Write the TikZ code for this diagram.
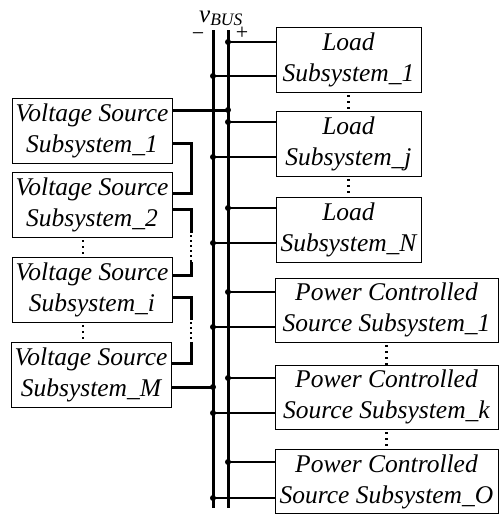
\documentclass[tikz,border=0pt]{standalone}
\usepackage{fontspec}
\setmainfont{Liberation Serif}
\begin{document}
\begin{tikzpicture}[x=1pt,y=-1pt,
 box/.style={draw, line width=0.8pt, inner sep=0pt, align=center, font=\fontsize{25.5}{31}\selectfont\itshape},
 lbox/.style={box, minimum width=145pt, minimum height=65pt},
 pbox/.style={box, minimum width=223pt, minimum height=64pt},
 vbox/.style={box, minimum width=160pt, minimum height=65pt},
 bus/.style={line width=3pt},
 wire/.style={line width=1.2pt},
 ser/.style={line width=3pt},
 serdot/.style={line width=2.5pt, dash pattern=on 2pt off 3pt},
 vdot/.style={line width=2.2pt, dash pattern=on 2pt off 4pt},
 jn/.style={circle, fill, inner sep=0pt, minimum size=6pt}]
\useasboundingbox (0,0) rectangle (499,515);

% buses
\coordinate (nbt) at (213,30); \coordinate (nbb) at (213,508);
\coordinate (pbt) at (228,30); \coordinate (pbb) at (228,508);
\draw[bus] (nbt) -- (nbb);
\draw[bus] (pbt) -- (pbb);

\node[anchor=base west, inner sep=0pt] (vbus) at (199,22) {\fontsize{25}{25}\selectfont\itshape v\textsubscript{BUS}};
\node[anchor=base, inner sep=0pt] (minus) at (198,40) {\fontsize{22}{22}\selectfont −};
\node[anchor=base, inner sep=0pt] (plus) at (242,39) {\fontsize{22}{22}\selectfont +};

% load boxes
\node[lbox] (L1) at (348.5,59.5) {Load\\Subsystem\_1};
\node[lbox] (Lj) at (348.5,143.5) {Load\\Subsystem\_j};
\node[lbox] (LN) at (348.5,229.5) {Load\\Subsystem\_N};
% power controlled boxes
\node[pbox] (P1) at (386.5,310) {Power Controlled\\Source Subsystem\_1};
\node[pbox] (Pk) at (386.5,397) {Power Controlled\\Source Subsystem\_k};
\node[pbox] (PO) at (386.5,481.5) {Power Controlled\\Source Subsystem\_O};
% voltage source boxes
\node[vbox] (V1) at (92,130.5) {Voltage Source\\Subsystem\_1};
\node[vbox] (V2) at (92,204.5) {Voltage Source\\Subsystem\_2};
\node[vbox] (Vi) at (92,289.5) {Voltage Source\\Subsystem\_i};
\node[vbox] (VM) at (91,375) {Voltage Source\\Subsystem\_M};

% right side taps
\foreach \b/\yp/\yn in {L1/42/76, Lj/122/157, LN/208/243, P1/292/327, Pk/378/413, PO/462/498}{
  \draw[wire] (pbt |- 0,\yp) node[jn]{} -- (\b.west |- 0,\yp);
  \draw[wire] (nbt |- 0,\yn) node[jn]{} -- (\b.west |- 0,\yn);
}

% voltage source bus connections
\draw[ser] (V1.east |- 0,110) -- (pbt |- 0,110) node[jn]{};
\draw[ser] (VM.east |- 0,387) -- (nbt |- 0,387) node[jn]{};

% series connections
\draw[ser] (V1.east |- 0,143) -| (191,193) -- (V2.east |- 0,193);
\draw[ser] (V2.east |- 0,209) -| (191,233);
\draw[serdot] (191,235) -- (191,262);
\draw[ser] (191,262) |- (Vi.east |- 0,275);
\draw[ser] (Vi.east |- 0,297) -| (191,320);
\draw[serdot] (191,322) -- (191,342);
\draw[ser] (191,342) |- (VM.east |- 0,363);

% vertical ellipses
\draw[vdot] (L1.south) ++(0,3) -- (Lj.north);
\draw[vdot] (Lj.south) ++(0,3) -- (LN.north);
\draw[vdot] (P1.south) ++(0,3) -- (Pk.north);
\draw[vdot] (Pk.south) ++(0,3) -- (PO.north);
\draw[vdot] (V2.south -| 83,0) ++(0,3) -- (Vi.north -| 83,0);
\draw[vdot] (Vi.south -| 83,0) ++(0,3) -- (VM.north -| 83,0);
\end{tikzpicture}
\end{document}
